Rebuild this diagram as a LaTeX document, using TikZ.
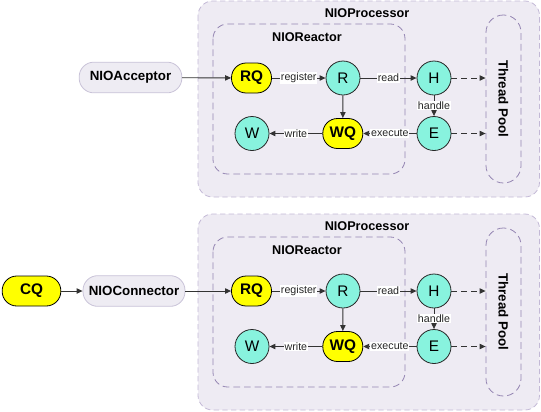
\documentclass[tikz,border=0pt]{standalone}
\usepackage{fontspec}
\setmainfont{Liberation Sans}
\usetikzlibrary{arrows.meta,calc}
\definecolor{boxfill}{HTML}{EEEBF3}
\definecolor{outerline}{HTML}{C3B9D6}
\definecolor{innerline}{HTML}{9485B2}
\definecolor{pillfill}{HTML}{EEECF3}
\definecolor{pillline}{HTML}{C9C3D8}
\definecolor{cyanfill}{HTML}{88F3DE}
\definecolor{qyellow}{HTML}{FFFF00}
\definecolor{lineclr}{HTML}{333333}
\tikzset{
  outerbox/.style={draw=outerline, fill=boxfill, dash pattern=on 4pt off 2.5pt, rounded corners=11pt, line width=0.6pt},
  innerbox/.style={draw=innerline, dash pattern=on 5pt off 3pt, rounded corners=11pt, line width=0.6pt},
  titlelbl/.style={font=\bfseries\fontsize{9.5}{11}\selectfont, inner sep=0pt},
  pill/.style={draw=pillline, fill=pillfill, rounded corners=11pt, minimum width=77pt, minimum height=23pt, font=\bfseries\fontsize{10}{12}\selectfont, inner sep=0pt, line width=0.6pt},
  queue/.style={draw=black, fill=qyellow, rounded corners=11pt, minimum width=30pt, minimum height=22.5pt, font=\bfseries\fontsize{11.5}{13}\selectfont, inner sep=0pt, line width=0.6pt},
  proc/.style={circle, draw=black!85, fill=cyanfill, minimum size=25.5pt, inner sep=0pt, font=\fontsize{11.5}{13}\selectfont, line width=0.6pt},
  poolbox/.style={draw=innerline, dash pattern=on 5pt off 3pt, rounded corners=13pt, minimum width=26.25pt, minimum height=126pt, line width=0.6pt, inner sep=0pt},
  connector/.style={draw=lineclr, line width=0.7pt, -{Triangle[length=4.5pt,width=4pt]}},
  dashconn/.style={connector, dash pattern=on 4pt off 3.5pt},
  lbl/.style={fill=white, inner sep=0.6pt, font=\fontsize{8}{9}\selectfont, text=black!85},
}
\newcommand\drawproc[2]{%
  \begin{scope}[shift={(0,#2)}]
    \draw[outerbox] (198,1) rectangle (539.5,197);
    \draw[innerbox] (213,24) rectangle (405,174);
    \node[titlelbl] (#1ptitle) at (367,13) {NIOProcessor};
    \node[titlelbl] (#1rtitle) at (307,37) {NIOReactor};
    \node[queue] (#1rq) at (251.5,78) {RQ};
    \node[proc] (#1r) at (343,78) {R};
    \node[proc] (#1h) at (434,78) {H};
    \node[proc] (#1e) at (434,133.5) {E};
    \node[queue] (#1wq) at (342.8,133.5) {WQ};
    \node[proc] (#1w) at (252,133.5) {W};
    \node[poolbox] (#1pool) at (503.5,99) {};
    \node[rotate=-90, font=\bfseries\fontsize{10}{12}\selectfont] (#1pooltext) at (#1pool.center) {Thread Pool};
  \end{scope}
  \draw[connector] (#1rq) -- node[lbl] {register} (#1r);
  \draw[connector] (#1r) -- node[lbl] {read} (#1h);
  \draw[connector] (#1r) -- (#1wq);
  \draw[connector] (#1h) -- node[lbl] {handle} (#1e);
  \draw[connector] (#1e) -- node[lbl] {execute} (#1wq);
  \draw[connector] (#1wq) -- node[lbl] {write} (#1w);
  \draw[dashconn] (#1h) -- (#1h -| #1pool.west);
  \draw[dashconn] (#1e) -- (#1e -| #1pool.west);
}
\begin{document}
\begin{tikzpicture}[x=0.75pt, y=-0.75pt]
  \useasboundingbox (0,0) rectangle (541,411);
  \drawproc{top}{0}
  \drawproc{bot}{213}
  \node[pill] (acc) at (130.5,77.5) {NIOAcceptor};
  \draw[connector] (acc) -- (toprq);
  \node[queue, minimum width=44pt] (cq) at (31.5,291) {CQ};
  \node[pill, minimum width=76.5pt] (con) at (134,291) {NIOConnector};
  \draw[connector] (cq) -- (con);
  \draw[connector] (con) -- (botrq);
\end{tikzpicture}
\end{document}
